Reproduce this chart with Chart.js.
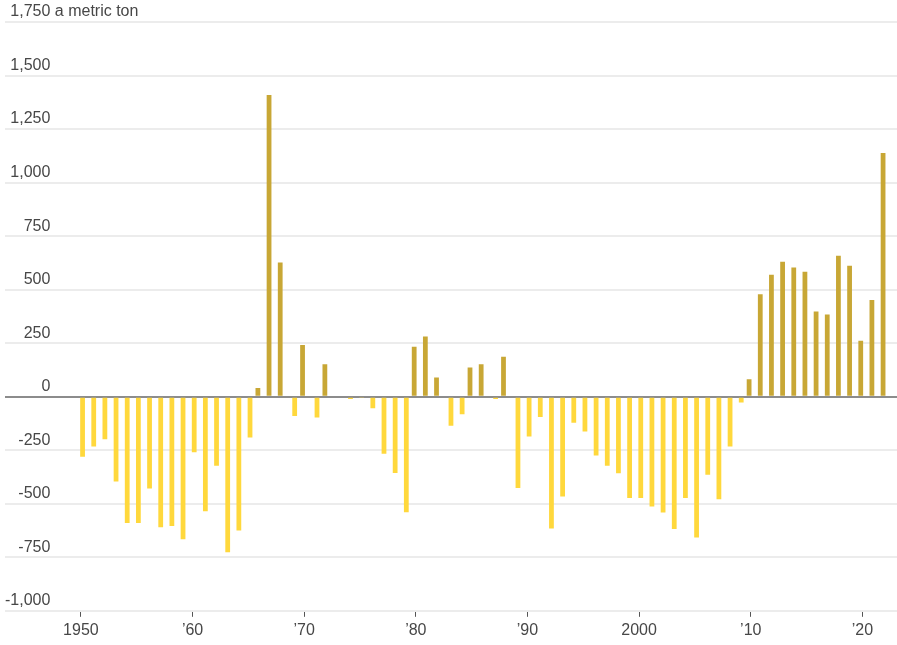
<!DOCTYPE html>
<html>
<head>
<meta charset="utf-8">
<script src="https://cdn.jsdelivr.net/npm/chart.js@4"></script>
<style>
  html, body { margin: 0; padding: 0; background: #fff; }
  #wrap { width: 897px; height: 645px; }
</style>
</head>
<body>
<div id="wrap"><canvas id="chart"></canvas></div>
<script>
// Yearly net figures, metric tons
const years = [];
for (let y = 1950; y <= 2022; y++) years.push(y);

const netValues = [
  -280, -233, -199, -396, -590, -590, -429, -610, -604, -666,   // 1950s
  -259, -535, -322, -727, -625, -191, 41, 1409, 627, -90,       // 1960s
  241, -97, 152, 0, -11, -4, -54, -267, -356, -540,             // 1970s
  233, 281, 90, -136, -82, 136, 152, -11, 186, -427,            // 1980s
  -186, -95, -616, -466, -122, -163, -275, -322, -358, -473,    // 1990s
  -473, -513, -541, -618, -473, -658, -364, -479, -233, -27,    // 2000s
  82, 479, 569, 630, 603, 583, 398, 384, 658, 611,              // 2010s
  261, 452, 1138                                                // 2020s
];

const xTickYears = [1950, 1960, 1970, 1980, 1990, 2000, 2010, 2020];
const yTickValues = [-1000, -750, -500, -250, 0, 250, 500, 750, 1000, 1250, 1500, 1750];
const unitText = ' a metric ton';

const FONT = '"Liberation Sans", Arial, sans-serif';
const TEXT_COLOR = '#474747';

const positive = years.map((yr, i) => ({ x: yr, y: netValues[i] > 0 ? netValues[i] : null }));
const negative = years.map((yr, i) => ({ x: yr, y: netValues[i] < 0 ? netValues[i] : null }));

function yearLabel(v) {
  if (v === 1950 || v === 2000) return String(v);
  return '\u2019' + String(v).slice(2);
}

// writes the unit right after the top tick label
const unitLabel = {
  id: 'unitLabel',
  afterDraw(chart) {
    const scale = chart.scales.y;
    const ctx = chart.ctx;
    ctx.save();
    ctx.font = '16px ' + FONT;
    const widest = Math.max(...scale.ticks.map(t => ctx.measureText(t.label).width));
    ctx.fillStyle = TEXT_COLOR;
    ctx.textAlign = 'left';
    ctx.textBaseline = 'middle';
    ctx.fillText(unitText, scale.right + widest, scale.getPixelForValue(1750) - 10);
    ctx.restore();
  }
};

new Chart(document.getElementById('chart').getContext('2d'), {
  type: 'bar',
  data: {
    datasets: [
      { label: 'Surplus', data: positive, backgroundColor: '#c8a735' },
      { label: 'Deficit', data: negative, backgroundColor: '#ffd83c' }
    ]
  },
  options: {
    responsive: true,
    maintainAspectRatio: false,
    animation: false,
    events: [],
    categoryPercentage: 0.59,
    barPercentage: 1.45,
    layout: { padding: { left: 5, top: 22, right: 0, bottom: 1 } },
    plugins: {
      legend: { display: false },
      tooltip: { enabled: false }
    },
    scales: {
      x: {
        type: 'linear',
        min: 1943.2,
        max: 2023.1,
        offset: false,
        afterBuildTicks: s => { s.ticks = xTickYears.map(v => ({ value: v })); },
        ticks: {
          autoSkip: false,
          maxRotation: 0,
          padding: 4,
          color: TEXT_COLOR,
          font: { family: FONT, size: 16 },
          callback: v => yearLabel(v)
        },
        grid: {
          offset: false,
          drawOnChartArea: false,
          tickLength: 6,
          tickColor: '#555',
          tickWidth: 1
        },
        border: { display: false }
      },
      y: {
        min: -1000,
        max: 1750,
        afterBuildTicks: s => { s.ticks = yTickValues.map(v => ({ value: v })); },
        ticks: {
          mirror: true,
          crossAlign: 'far',
          padding: 0,
          labelOffset: -10,
          color: TEXT_COLOR,
          font: { family: FONT, size: 16 },
          callback: v => v.toLocaleString('en-US')
        },
        grid: {
          drawTicks: false,
          lineWidth: 2,
          color: ctx => ctx.tick && ctx.tick.value === 0 ? '#8c8c8c' : '#ececec'
        },
        border: { display: false }
      }
    }
  },
  plugins: [unitLabel]
});
</script>
</body>
</html>
